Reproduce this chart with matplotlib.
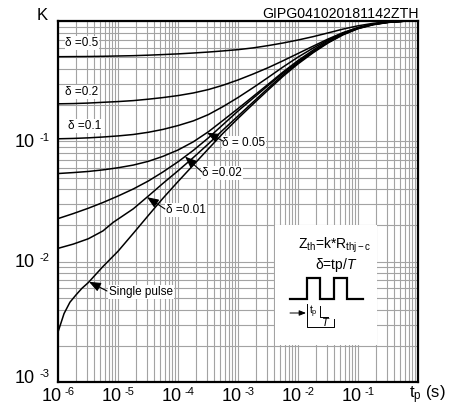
import numpy as np
import matplotlib
matplotlib.use("Agg")
import matplotlib.pyplot as plt
from matplotlib.patches import Rectangle

plt.rcParams['font.family'] = ['Liberation Sans', 'DejaVu Sans']
plt.rcParams['mathtext.fontset'] = 'custom'
plt.rcParams['mathtext.rm'] = 'Liberation Sans'
plt.rcParams['mathtext.it'] = 'Liberation Sans:italic'
plt.rcParams['mathtext.bf'] = 'Liberation Sans:bold'

# ---------------- data ----------------
tp_single = [1e-6, 1.26e-6, 1.58e-6, 2e-6, 2.5e-6, 3.2e-6, 5.6e-6, 1e-5, 1.8e-5, 3.2e-5,
             5.6e-5, 1e-4, 1.8e-4, 3.2e-4, 5.6e-4, 1e-3, 1.8e-3, 3.2e-3, 5.6e-3, 1e-2,
             1.8e-2, 3.2e-2, 5.6e-2, 0.1, 0.18, 0.32, 0.56, 1.0]
k_single = [0.0026, 0.0037, 0.0046, 0.0053, 0.0060, 0.0067, 0.0091, 0.0122, 0.0172, 0.0242,
            0.0336, 0.0463, 0.0635, 0.0865, 0.1164, 0.155, 0.205, 0.268, 0.346, 0.440,
            0.546, 0.659, 0.766, 0.863, 0.931, 0.973, 0.995, 1.0]

tp_d001 = [1e-6, 1.8e-6, 3.2e-6, 5.6e-6, 8.3e-6, 1.8e-5, 3.2e-5, 5.6e-5, 1e-4, 1.8e-4,
           3.2e-4, 5.6e-4, 1e-3, 1.8e-3, 3.2e-3, 5.6e-3, 1e-2, 1.8e-2, 3.2e-2, 5.6e-2,
           0.1, 0.18, 0.32, 0.56, 1.0]
k_d001 = [0.0129, 0.0140, 0.0155, 0.0180, 0.0212, 0.0275, 0.0351, 0.0447, 0.0569, 0.0733,
          0.0951, 0.1242, 0.1622, 0.2128, 0.2773, 0.3556, 0.4487, 0.5546, 0.665, 0.773,
          0.867, 0.935, 0.975, 0.995, 1.0]

tp_periodic = [1e-6, 1.8e-6, 3.2e-6, 5.6e-6, 1e-5, 1.8e-5, 3.2e-5, 5.6e-5, 1e-4, 1.8e-4,
               3.2e-4, 5.6e-4, 1e-3, 1.8e-3, 3.2e-3, 5.6e-3, 1e-2, 1.8e-2, 3.2e-2, 5.6e-2,
               0.1, 0.18, 0.32, 0.56, 1.0]
k_d002 = [0.0228, 0.0251, 0.0278, 0.0310, 0.0351, 0.0402, 0.0468, 0.0556, 0.0676, 0.0841,
          0.1067, 0.1374, 0.1786, 0.229, 0.2917, 0.367, 0.457, 0.560, 0.668, 0.776,
          0.871, 0.938, 0.977, 0.995, 1.0]
k_d005 = [0.054, 0.055, 0.0562, 0.0579, 0.0603, 0.0635, 0.0682, 0.0750, 0.0847, 0.0991,
          0.120, 0.149, 0.187, 0.237, 0.299, 0.376, 0.469, 0.574, 0.687, 0.790,
          0.875, 0.940, 0.978, 0.995, 1.0]
k_d01 = [0.105, 0.1057, 0.1069, 0.1086, 0.1109, 0.114, 0.1189, 0.1256, 0.1352, 0.1479,
         0.1667, 0.1941, 0.2312, 0.2799, 0.3404, 0.414, 0.501, 0.597, 0.697, 0.794,
         0.879, 0.942, 0.979, 0.995, 1.0]
k_d02 = [0.205, 0.206, 0.208, 0.211, 0.214, 0.218, 0.224, 0.231, 0.240, 0.2523,
         0.2692, 0.2924, 0.3236, 0.3631, 0.410, 0.4667, 0.537, 0.619, 0.710, 0.800,
         0.881, 0.944, 0.982, 0.995, 1.0]
k_d05 = [0.505, 0.506, 0.507, 0.509, 0.512, 0.515, 0.520, 0.526, 0.533, 0.542,
         0.552, 0.564, 0.578, 0.598, 0.625, 0.656, 0.695, 0.742, 0.797, 0.856,
         0.912, 0.957, 0.985, 0.998, 1.0]

xtick_exps = [-6, -5, -4, -3, -2, -1]
ytick_exps = [-3, -2, -1]
label_texts = ["δ =0.5", "δ =0.2", "δ =0.1", "δ = 0.05", "δ =0.02", "δ =0.01", "Single pulse"]
title_text = "GIPG041020181142ZTH"

# ---------------- figure ----------------
W, H = 454, 407
fig = plt.figure(figsize=(W / 100, H / 100), dpi=100)
AX_L, AX_R, AX_T, AX_B = 58, 418, 21, 382
ax = fig.add_axes([AX_L / W, (H - AX_B) / H, (AX_R - AX_L) / W, (AX_B - AX_T) / H])
ax.set_xscale('log')
ax.set_yscale('log')
ax.set_xlim(1e-6, 1)
ax.set_ylim(1e-3, 1)
ax.grid(which='both', color='#a3a3a3', lw=0.8, zorder=0)
ax.set_axisbelow(True)
ax.tick_params(which='both', length=0, labelbottom=False, labelleft=False)
for s in ax.spines.values():
    s.set_linewidth(1.6)
    s.set_zorder(5)


def pa(px, py):
    return ((px - AX_L) / (AX_R - AX_L), (AX_B - py) / (AX_B - AX_T))


curves = [(tp_periodic, k_d05), (tp_periodic, k_d02), (tp_periodic, k_d01),
          (tp_periodic, k_d005), (tp_periodic, k_d002), (tp_d001, k_d001),
          (tp_single, k_single)]
for tp, k in curves:
    ax.plot(tp, k, color='black', lw=1.1, zorder=3, solid_joinstyle='round')

# inset white box
bx0, by0 = pa(275, 345)
bx1, by1 = pa(377, 225)
ax.add_patch(Rectangle((bx0, by0), bx1 - bx0, by1 - by0, transform=ax.transAxes,
                       facecolor='white', edgecolor='none', zorder=1))

# curve labels
label_pos = [(82, 43), (82, 92), (85, 126), (244, 143), (222, 173), (186, 210), (141, 292)]
for txt, (px, py) in zip(label_texts, label_pos):
    ax.text(*pa(px, py), txt, transform=ax.transAxes, ha='center', va='center',
            fontsize=8.5, zorder=4,
            bbox=dict(facecolor='white', edgecolor='none', pad=0.6))

# arrows from labels to curves
arrow_defs = [(3, (223, 141), -3.517), (4, (202, 172), -3.883),
              (5, (165, 209), -4.517), (6, (107, 291), -5.483)]
for ci, (tx, ty), lx in arrow_defs:
    tp, k = curves[ci]
    ly = np.interp(lx, np.log10(tp), np.log10(k))
    ax.annotate('', xy=(10 ** lx, 10 ** ly), xycoords='data',
                xytext=pa(tx, ty), textcoords='axes fraction',
                arrowprops=dict(arrowstyle='-|>,head_length=0.7,head_width=0.28',
                                color='black', lw=0.8, mutation_scale=10,
                                shrinkA=0, shrinkB=0), zorder=4)

# tick labels
for e in xtick_exps:
    ax.annotate('10', xy=(10.0 ** e, 0), xycoords=('data', 'axes fraction'),
                xytext=(3.0, -14), textcoords='offset points', ha='right', va='baseline',
                fontsize=13)
    ax.annotate('-%d' % (-e), xy=(10.0 ** e, 0), xycoords=('data', 'axes fraction'),
                xytext=(5.0, -9.4), textcoords='offset points', ha='left', va='baseline',
                fontsize=8)
for e in ytick_exps:
    dy = 3.0 if e == -3 else 0.0
    ax.annotate('10', xy=(0, 10.0 ** e), xycoords=('axes fraction', 'data'),
                xytext=(-16.6, -4.0 + dy), textcoords='offset points', ha='right', va='baseline',
                fontsize=13)
    ax.annotate('-%d' % (-e), xy=(0, 10.0 ** e), xycoords=('axes fraction', 'data'),
                xytext=(-13.0, 0.5 + dy), textcoords='offset points', ha='left', va='baseline',
                fontsize=8)

# K, axis label, title
fig.text(42 / W, 1 - 20 / H, 'K', ha='center', va='baseline', fontsize=12)
fig.text(409 / W, 1 - 398.5 / H, r't$_{\mathrm{p}}$ (s)', ha='left', va='baseline', fontsize=12)
fig.text(419 / W, 1 - 18 / H, title_text, ha='right', va='baseline', fontsize=10.2)

# inset content
ax.text(*pa(335, 248.5), r'Z$_{\mathrm{th}}$=k*R$_{\mathrm{thj-c}}$', transform=ax.transAxes,
        ha='center', va='baseline', fontsize=10, zorder=4)
ax.text(*pa(336, 268.5), r'δ=tp/$\mathit{T}$', transform=ax.transAxes,
        ha='center', va='baseline', fontsize=10, zorder=4)
wave_px = [290, 306.7, 306.7, 320, 320, 334, 334, 347, 347, 363]
wave_py = [299, 299, 278, 278, 299, 299, 278, 278, 299, 299]
wx, wy = zip(*[pa(a, b) for a, b in zip(wave_px, wave_py)])
ax.plot(wx, wy, transform=ax.transAxes, color='black', lw=1.6, zorder=4,
        solid_joinstyle='miter')
ax.annotate('', xy=pa(306, 313), xytext=pa(290, 313), xycoords='axes fraction',
            textcoords='axes fraction',
            arrowprops=dict(arrowstyle='-|>,head_length=0.5,head_width=0.2', color='black',
                            lw=0.7, mutation_scale=8, shrinkA=0, shrinkB=0), zorder=4)
brx, bry = zip(*[pa(a, b) for a, b in [(306.7, 304), (306.7, 327), (333.5, 327), (333.5, 319)]])
ax.plot(brx, bry, transform=ax.transAxes, color='black', lw=0.7, zorder=4)
lx_, ly_ = zip(*[pa(a, b) for a, b in [(320, 306), (320, 317), (328, 317)]])
ax.plot(lx_, ly_, transform=ax.transAxes, color='black', lw=0.7, zorder=4)
ax.text(*pa(313.5, 314), r't$_{\mathrm{p}}$', transform=ax.transAxes, ha='center',
        va='baseline', fontsize=7.5, zorder=4)
ax.text(*pa(325.5, 326), r'$\mathit{T}$', transform=ax.transAxes, ha='center',
        va='baseline', fontsize=8, zorder=4)

fig.savefig('out.png', dpi=100)
